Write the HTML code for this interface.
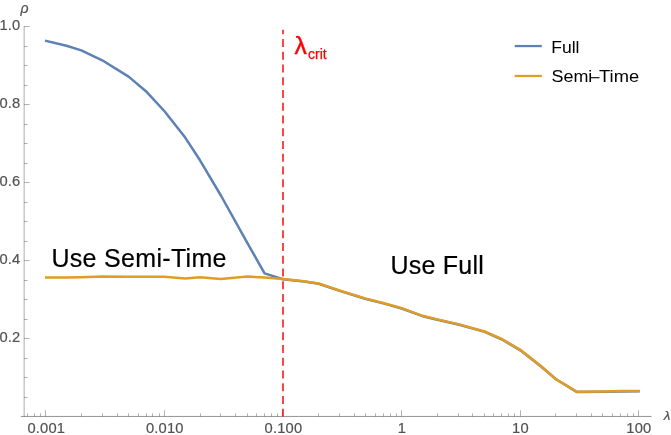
<!DOCTYPE html><html><head><meta charset="utf-8"><title>plot</title><style>html,body{margin:0;padding:0;background:#fff}svg{display:block;will-change:transform}text{font-family:"Liberation Sans",sans-serif}</style></head><body>
<svg width="671" height="435" viewBox="0 0 671 435">
<rect width="671" height="435" fill="#fff"/>
<g stroke="#666" stroke-width="0.5" fill="none">
<path d="M24.15 26.2 V416.8" stroke-width="0.55"/>
<path d="M20.9 416.45 H651.4" stroke-width="0.7"/>
<path d="M24 397.50 h3.6"/>
<path d="M24 377.50 h3.6"/>
<path d="M24 358.50 h3.6"/>
<path d="M24 338.50 h5.7"/>
<path d="M24 319.50 h3.6"/>
<path d="M24 299.50 h3.6"/>
<path d="M24 280.50 h3.6"/>
<path d="M24 260.50 h5.7"/>
<path d="M24 241.50 h3.6"/>
<path d="M24 221.50 h3.6"/>
<path d="M24 202.50 h3.6"/>
<path d="M24 182.50 h5.7"/>
<path d="M24 163.50 h3.6"/>
<path d="M24 143.50 h3.6"/>
<path d="M24 124.50 h3.6"/>
<path d="M24 104.50 h5.7"/>
<path d="M24 85.50 h3.6"/>
<path d="M24 65.50 h3.6"/>
<path d="M24 46.50 h3.6"/>
<path d="M24 26.50 h5.7"/>
<path d="M27.50 416.5 v-3.2"/>
<path d="M34.50 416.5 v-3.2"/>
<path d="M40.50 416.5 v-3.2"/>
<path d="M45.50 416.5 v-6.3"/>
<path d="M81.50 416.5 v-3.2"/>
<path d="M102.50 416.5 v-3.2"/>
<path d="M117.50 416.5 v-3.2"/>
<path d="M128.50 416.5 v-3.2"/>
<path d="M138.50 416.5 v-3.2"/>
<path d="M146.50 416.5 v-3.2"/>
<path d="M152.50 416.5 v-3.2"/>
<path d="M159.50 416.5 v-3.2"/>
<path d="M164.50 416.5 v-6.3"/>
<path d="M200.50 416.5 v-3.2"/>
<path d="M220.50 416.5 v-3.2"/>
<path d="M235.50 416.5 v-3.2"/>
<path d="M247.50 416.5 v-3.2"/>
<path d="M256.50 416.5 v-3.2"/>
<path d="M264.50 416.5 v-3.2"/>
<path d="M271.50 416.5 v-3.2"/>
<path d="M277.50 416.5 v-3.2"/>
<path d="M282.50 416.5 v-6.3"/>
<path d="M318.50 416.5 v-3.2"/>
<path d="M339.50 416.5 v-3.2"/>
<path d="M354.50 416.5 v-3.2"/>
<path d="M365.50 416.5 v-3.2"/>
<path d="M375.50 416.5 v-3.2"/>
<path d="M383.50 416.5 v-3.2"/>
<path d="M390.50 416.5 v-3.2"/>
<path d="M396.50 416.5 v-3.2"/>
<path d="M401.50 416.5 v-6.3"/>
<path d="M437.50 416.5 v-3.2"/>
<path d="M458.50 416.5 v-3.2"/>
<path d="M472.50 416.5 v-3.2"/>
<path d="M484.50 416.5 v-3.2"/>
<path d="M493.50 416.5 v-3.2"/>
<path d="M501.50 416.5 v-3.2"/>
<path d="M508.50 416.5 v-3.2"/>
<path d="M514.50 416.5 v-3.2"/>
<path d="M520.50 416.5 v-6.3"/>
<path d="M555.50 416.5 v-3.2"/>
<path d="M576.50 416.5 v-3.2"/>
<path d="M591.50 416.5 v-3.2"/>
<path d="M602.50 416.5 v-3.2"/>
<path d="M612.50 416.5 v-3.2"/>
<path d="M620.50 416.5 v-3.2"/>
<path d="M627.50 416.5 v-3.2"/>
<path d="M633.50 416.5 v-3.2"/>
<path d="M638.50 416.5 v-6.3"/>
</g>
<path d="M283 29.8 V416.6" stroke="#ff0000" stroke-width="1.46" stroke-dasharray="8 4.75" stroke-dashoffset="3.55" fill="none"/>
<polyline points="46.2,40.9 66.5,45.8 81.3,50.4 102.2,60.3 128.6,76.6 145.9,91.2 164.3,111.0 185.2,137.6 200.0,160.3 220.9,195.5 247.3,242.8 264.6,273.4 283.0,279.3 303.9,281.6 318.7,283.8 339.6,290.9 366.0,299.0 383.3,303.4 401.7,308.5 422.6,316.2 437.4,319.8 458.3,324.5 484.7,331.9 502.0,339.5 520.4,350.3 541.3,366.7 556.1,379.3 577.0,392.1 603.4,391.8 620.7,391.4 638.5,391.3" fill="none" stroke="#5e81b5" stroke-width="2.5" stroke-linejoin="round" stroke-linecap="square"/>
<polyline points="46.2,277.6 66.5,277.4 81.3,277.2 102.2,276.5 128.6,276.7 145.9,276.7 164.3,276.8 185.2,278.5 200.0,277.2 220.9,279.0 247.3,276.5 264.6,277.6 283.0,278.9 303.9,281.2 318.7,283.4 339.6,290.5 366.0,298.6 383.3,303.0 401.7,308.1 422.6,315.8 437.4,319.4 458.3,324.1 484.7,331.5 502.0,339.1 520.4,349.9 541.3,366.3 556.1,379.4 577.0,391.8 603.4,391.5 620.7,391.1 638.5,391.0" fill="none" stroke="#e19c24" stroke-width="2.5" stroke-linejoin="miter" stroke-linecap="square"/>
<g fill="#525252" font-size="14.7px" stroke="#525252" stroke-width="0.2" letter-spacing="0.2">
<text transform="translate(20.5,30.3) scale(1,1.05)" text-anchor="end">1.0</text>
<text transform="translate(20.5,108.3) scale(1,1.05)" text-anchor="end">0.8</text>
<text transform="translate(20.5,186.3) scale(1,1.05)" text-anchor="end">0.6</text>
<text transform="translate(20.5,264.3) scale(1,1.05)" text-anchor="end">0.4</text>
<text transform="translate(20.5,342.3) scale(1,1.05)" text-anchor="end">0.2</text>
<text transform="translate(46.3,433.3) scale(1,1.05)" text-anchor="middle">0.001</text>
<text transform="translate(164.8,433.3) scale(1,1.05)" text-anchor="middle">0.010</text>
<text transform="translate(283.4,433.3) scale(1,1.05)" text-anchor="middle">0.100</text>
<text transform="translate(401.9,433.3) scale(1,1.05)" text-anchor="middle">1</text>
<text transform="translate(520.4,433.3) scale(1,1.05)" text-anchor="middle">10</text>
<text transform="translate(638.9,433.3) scale(1,1.05)" text-anchor="middle">100</text>
<text x="20.6" y="12.9" font-size="14px" font-style="italic">ρ</text>
<text x="663.7" y="420.1" font-size="13.4px" font-style="italic">λ</text>
</g>
<text x="51.4" y="267.2" font-size="25px" fill="#000" stroke="#000" stroke-width="0.2" textLength="175.1">Use Semi-Time</text>
<text x="390.5" y="273.7" font-size="25px" fill="#000" stroke="#000" stroke-width="0.2" textLength="93.3">Use Full</text>
<text x="294.5" y="54.3" font-size="24.6px" fill="#ff0000" stroke="#ff0000" stroke-width="0.45">λ</text>
<text x="308" y="58.8" font-size="14px" fill="#ff0000" stroke="#ff0000" stroke-width="0.25">crit</text>
<path d="M514.7 46.05 H541.8" stroke="#5e81b5" stroke-width="2.25"/>
<path d="M514.7 75.95 H541.8" stroke="#e19c24" stroke-width="2.25"/>
<g font-size="16.3px" fill="#000">
<text x="551.16" y="52.8" textLength="28.3" lengthAdjust="spacingAndGlyphs">Full</text>
<text x="551.45" y="82.2" textLength="40.9" lengthAdjust="spacingAndGlyphs">Semi</text>
<text x="599.14" y="82.2" textLength="39.98" lengthAdjust="spacingAndGlyphs">Time</text>
</g>
<path d="M590.9 77.7 H599.5" stroke="#000" stroke-width="1.1"/>
</svg></body></html>
